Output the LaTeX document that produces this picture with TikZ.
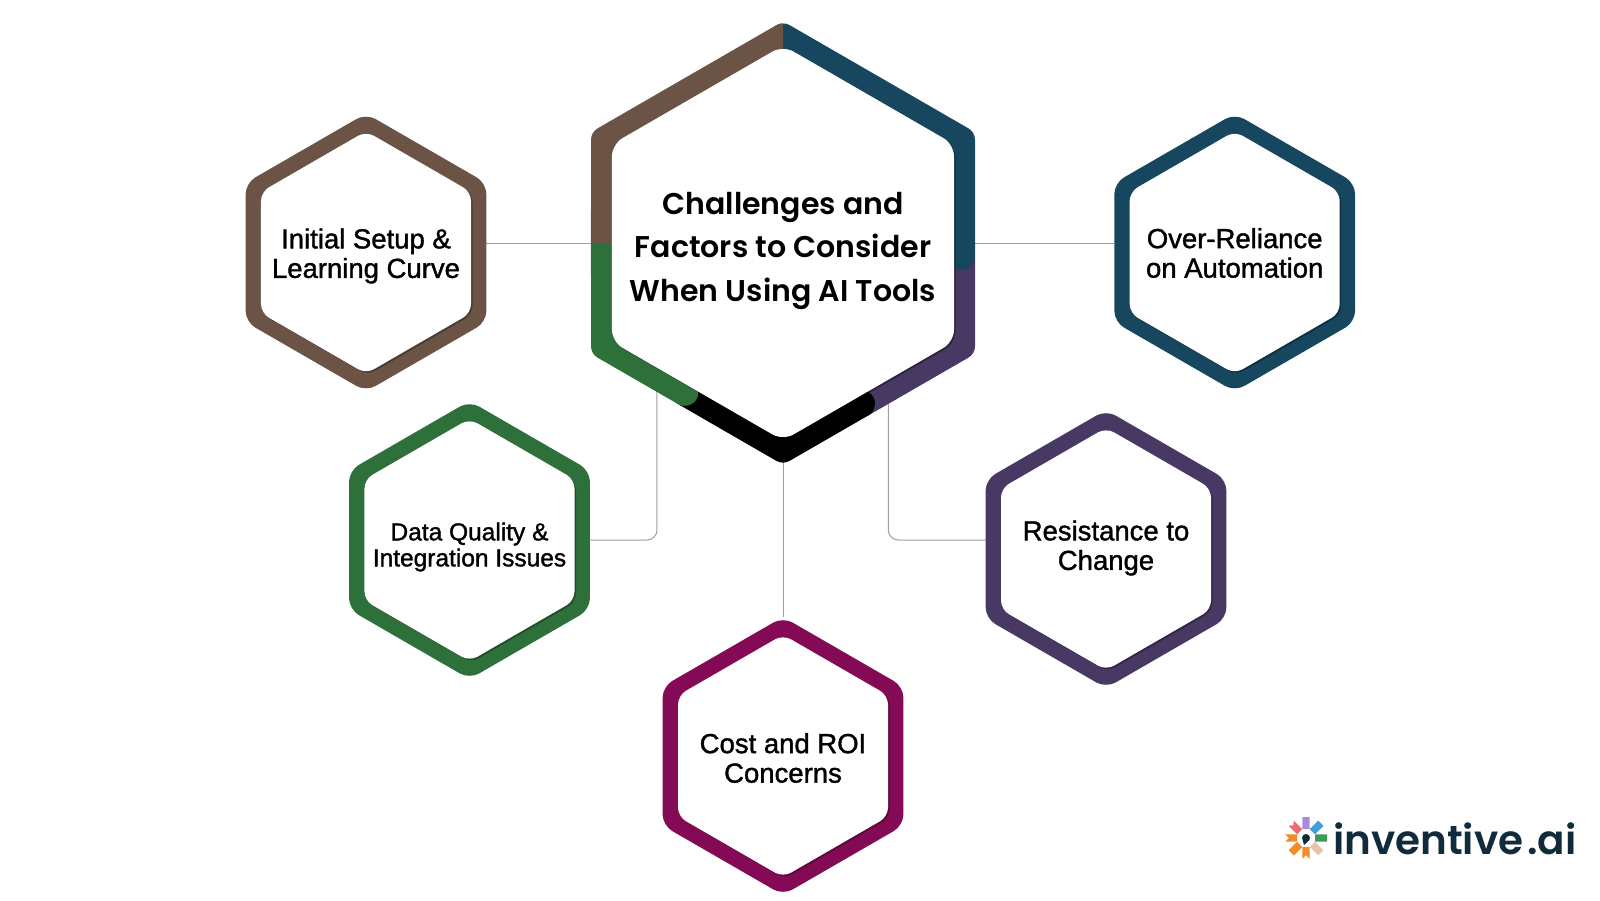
\documentclass[tikz,border=0pt]{standalone}
\usepackage{fontspec}
\usetikzlibrary{shapes.geometric,calc,backgrounds,shadows}
\newfontfamily\titlefont{Poppins SemiBold}
\newfontfamily\labelfont{Liberation Sans}[FakeBold=1.3]
\newfontfamily\logofont{Poppins SemiBold}
\definecolor{setupbrown}{HTML}{6B5445}
\definecolor{overblue}{HTML}{16475F}
\definecolor{datagreen}{HTML}{2E7039}
\definecolor{resistpurple}{HTML}{473963}
\definecolor{costred}{HTML}{850A55}
\definecolor{logonavy}{HTML}{0F2B3C}
\tikzset{
	hexbase/.style={regular polygon, regular polygon sides=6, shape border rotate=30, inner sep=0pt, outer sep=0pt},
	ring/.style={hexbase, minimum size=278pt, rounded corners=11pt, fill=#1},
	face/.style={hexbase, minimum size=242.5pt, rounded corners=9pt, fill=white,
		drop shadow={shadow xshift=1.5pt, shadow yshift=-1.5pt, opacity=0.3, fill=black}},
	segment/.style={line width=27pt, line join=round, line cap=round},
	connector/.style={draw=black!38, line width=1pt},
	smalltext/.style={inner sep=0pt, align=center, font=\labelfont\fontsize{27.5}{29.5}\selectfont},
}
\begin{document}
\begin{tikzpicture}[x=1pt, y=-1pt]
	\useasboundingbox (0,0) rectangle (1600,900);
	% outer hexagons
	\node[ring=setupbrown] (setupring) at (366,252.5) {};
	\node[ring=overblue] (overring) at (1234.7,252.5) {};
	\node[ring=datagreen] (dataring) at (469.5,540) {};
	\node[ring=resistpurple] (resistring) at (1106,549) {};
	\node[ring=costred] (costring) at (783,756) {};
	% centre ring
	\node[hexbase, minimum size=412.2pt] (centerring) at (783,243) {};
	\coordinate (leftdrop) at ($(centerring.corner 3)!.294!(centerring.corner 4)$);
	\coordinate (rightdrop) at ($(centerring.corner 5)!.41!(centerring.corner 4)$);
	\coordinate (leftjoin) at ($(centerring.corner 3)!.45!(centerring.corner 4)$);
	\coordinate (rightjoin) at ($(centerring.corner 5)!.56!(centerring.corner 4)$);
	\coordinate (bluejoin) at ($(centerring.corner 6)!.565!(centerring.corner 5)$);
	\draw[segment, resistpurple] (bluejoin) -- (centerring.corner 5) -- (rightjoin);
	\draw[segment, black] (rightjoin) -- (centerring.corner 4) -- (leftjoin);
	\draw[segment, datagreen] (leftjoin) -- (centerring.corner 3) -- (centerring.west);
	\draw[segment, overblue] (centerring.corner 1) -- (centerring.corner 6) -- (bluejoin);
	\begin{scope}
		\clip (0,0) rectangle (centerring.south);
		\draw[segment, setupbrown, line cap=butt] (centerring.west) -- (centerring.corner 2) -- (centerring.corner 1) -- ($(centerring.corner 1)!.1!(centerring.corner 6)$);
	\end{scope}
	% white faces
	\node[face, minimum size=395pt, rounded corners=12pt,
		drop shadow={shadow xshift=1pt, shadow yshift=-1pt, opacity=0.15, fill=black}] (centerface) at (centerring) {};
	\node[face] (setupface) at (setupring) {};
	\node[face] (overface) at (overring) {};
	\node[face] (dataface) at (dataring) {};
	\node[face] (resistface) at (resistring) {};
	\node[face] (costface) at (costring) {};
	% labels
	\node[inner sep=0pt, align=center, font=\titlefont\fontsize{30}{43.5}\selectfont] (center) at (783,250.5) {Challenges and\\Factors to Consider\\When Using AI Tools};
	\node[smalltext] (setup) at (366,256) {Initial Setup \&\\Learning Curve};
	\node[smalltext] (over) at (1234.7,253) {Over-Reliance\\on Automation};
	\node[smalltext, font=\labelfont\fontsize{24.5}{26}\selectfont] (data) at (469.5,547) {Data Quality \&\\Integration Issues};
	\node[smalltext] (resist) at (1106,548) {Resistance to\\Change};
	\node[smalltext] (cost) at (783,758) {Cost and ROI\\Concerns};
	% connectors
	\begin{scope}[on background layer]
		\draw[connector] (setupring.east |- centerring.west) -- (centerring.west);
		\draw[connector] (centerring.east) -- (overring.west |- centerring.east);
		\draw[connector] (centerring.south) -- (costring.north);
		\draw[connector, rounded corners=10pt] (dataring.east) -| (leftdrop);
		\draw[connector, rounded corners=10pt] (resistring.west |- dataring.east) -| (rightdrop);
	\end{scope}
	% logo
	\coordinate (logomark) at (1306,838);
	\begin{scope}[shift={(logomark)}]
		\foreach \ang/\col/\notch in {90/A98BD9/0, 45/3F9FD6/0, 0/3F9A5A/0, -45/E9C3A5/0, -90/F28C28/4, -135/F28C28/0, 180/F28C28/4, 135/EE6A72/3} {
			\definecolor{petal}{HTML}{\col}
			\fill[petal, rotate=\ang] (9,-3.7) -- (21,-3.7) -- (21-\notch,0) -- (21,3.7) -- (9,3.7) -- cycle;
		}
		\fill[logonavy] (0,0) circle (4pt);
		\fill[logonavy] (-3.5,1.5) -- (-2,7) -- (2,3.5) -- cycle;
	\end{scope}
	\node[anchor=base west, inner sep=0pt, text=logonavy, font=\logofont\fontsize{40.5}{41}\selectfont] (logotext) at (1333,854) {inventive\kern4pt.ai};
\end{tikzpicture}
\end{document}
